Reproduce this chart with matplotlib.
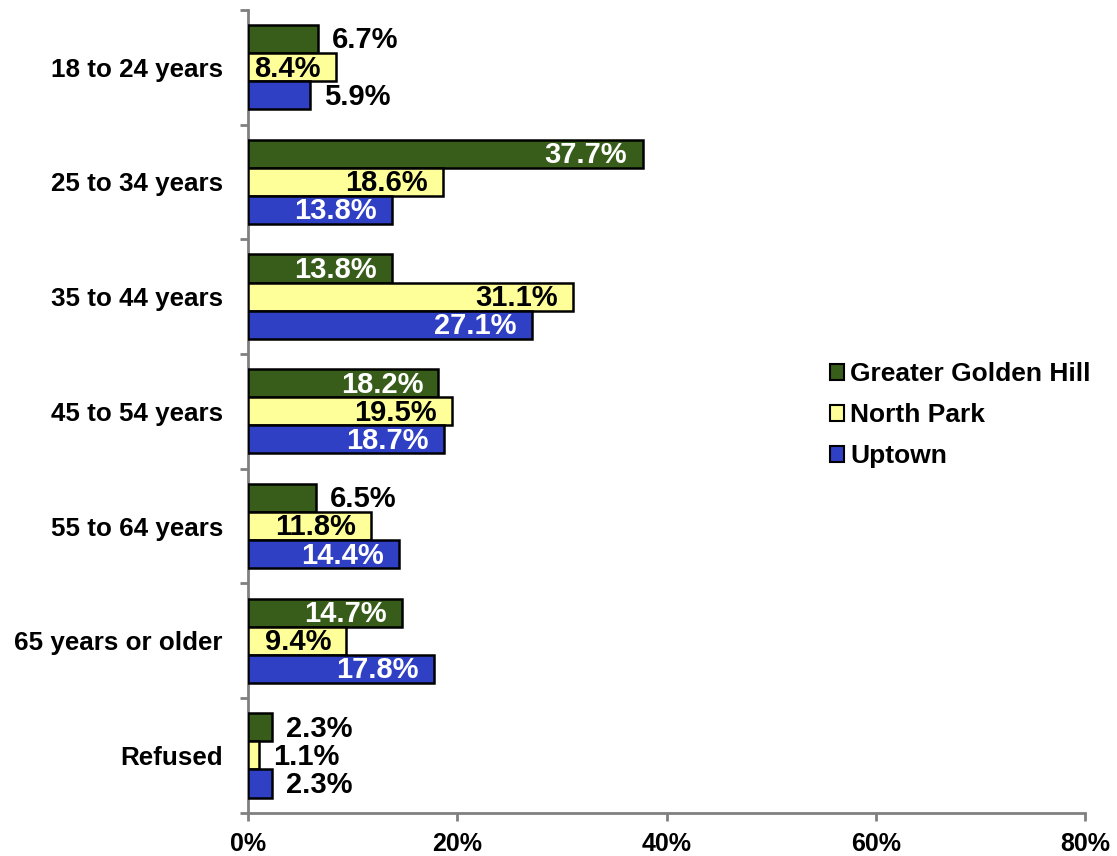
import matplotlib
matplotlib.use("Agg")
import matplotlib.pyplot as plt
import numpy as np
from matplotlib.patches import Patch

plt.rcParams["font.family"] = ["Liberation Sans", "DejaVu Sans"]
plt.rcParams["font.weight"] = "bold"

categories = ["18 to 24 years", "25 to 34 years", "35 to 44 years", "45 to 54 years",
              "55 to 64 years", "65 years or older", "Refused"]
series_names = ["Greater Golden Hill", "North Park", "Uptown"]
golden_hill = [6.7, 37.7, 13.8, 18.2, 6.5, 14.7, 2.3]
north_park = [8.4, 18.6, 31.1, 19.5, 11.8, 9.4, 1.1]
uptown = [5.9, 13.8, 27.1, 18.7, 14.4, 17.8, 2.3]
x_ticks = [0, 20, 40, 60, 80]

colors = ["#385D1A", "#FFFF99", "#2F40C4"]
inside_text = ["white", "black", "white"]

fig = plt.figure(figsize=(11.17, 8.56), dpi=100)
ax = fig.add_axes([0.222, 0.0505, 0.7495, 0.938])

y = np.arange(len(categories))
h = 0.245
for k, (vals, col, tcol) in enumerate(zip([golden_hill, north_park, uptown], colors, inside_text)):
    pos = y + (k - 1) * h
    ax.barh(pos, vals, height=h, color=col, edgecolor="black", linewidth=1.8, zorder=3)
    for p, v in zip(pos, vals):
        # Excel-style: inside end if it fits, otherwise just outside
        if v >= 7:
            ax.annotate(f"{v:.1f}%", (v, p), xytext=(-11, -1), textcoords="offset points",
                        ha="right", va="center", fontsize=21, fontweight="bold", color=tcol, zorder=4)
        else:
            ax.annotate(f"{v:.1f}%", (v, p), xytext=(10, -1), textcoords="offset points",
                        ha="left", va="center", fontsize=21, fontweight="bold", color="black", zorder=4)

ax.set_xlim(0, 80)
ax.set_ylim(len(categories) - 0.5, -0.5)
ax.set_xticks(x_ticks)
ax.set_xticklabels([f"{t}%" for t in x_ticks], fontsize=18, fontweight="bold")
ax.set_yticks(y)
ax.set_yticklabels(categories, fontsize=18.7, fontweight="bold")
ax.set_yticks(np.arange(len(categories) + 1) - 0.5, minor=True)
ax.tick_params(axis="y", which="major", length=0, pad=18)
ax.tick_params(axis="y", which="minor", length=6, width=2, color="#808080")
ax.tick_params(axis="x", length=6, width=2, color="#808080", pad=8)

for s in ["top", "right"]:
    ax.spines[s].set_visible(False)
for s in ["left", "bottom"]:
    ax.spines[s].set_color("#808080")
    ax.spines[s].set_linewidth(2)

handles = [Patch(facecolor=c, edgecolor="black", linewidth=1.5) for c in colors]
fig.legend(handles, series_names, loc="center left", bbox_to_anchor=(0.743, 0.515),
           frameon=False, handlelength=0.55, handleheight=0.55,
           handletextpad=0.22, labelspacing=0.64, borderpad=0, borderaxespad=0,
           prop={"weight": "bold", "size": 19})

fig.savefig("out.png", dpi=100)
